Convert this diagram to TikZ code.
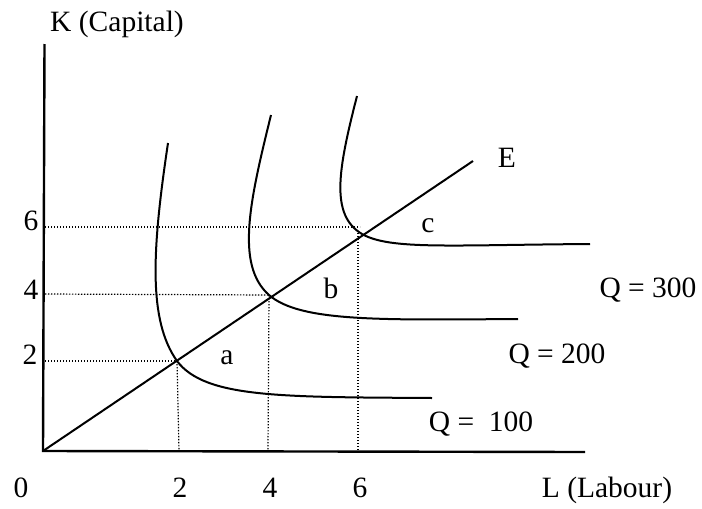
\documentclass[tikz,border=0pt]{standalone}
\usepackage{fontspec}
\setmainfont{Liberation Serif}
\begin{document}
\begin{tikzpicture}[x=1pt,y=-1pt,
  lbl/.style={inner sep=0pt,anchor=base,font=\fontsize{29.5}{35}\selectfont},
  axis/.style={line width=2.4pt},
  curve/.style={line width=2pt},
  guide/.style={line width=1.2pt,dash pattern=on 1.3pt off 1.7pt}]
\useasboundingbox (0,0) rectangle (702,509);
% axes
\coordinate (O) at (43,451);
\coordinate (Ytop) at (44.5,44);
\coordinate (Xend) at (585,452);
\draw[axis] (Ytop) -- (O) -- (Xend);
% expansion path
\coordinate (a) at (177,361);
\coordinate (b) at (269,295);
\coordinate (c) at (362,234);
\coordinate (Eend) at (473,161);
\draw[curve] (O) -- (Eend);
% guide lines
\coordinate (y2) at (45,361);
\coordinate (y4) at (45,294);
\coordinate (y6) at (45,227);
\coordinate (c6) at (360,227);
\coordinate (c6b) at (358,233);
\coordinate (x2) at (179,451);
\coordinate (x4) at (268,451);
\coordinate (x6) at (358,451);
\draw[guide] (y2) -- (a);
\draw[guide] (y4) -- (b);
\draw[guide] (y6) -- (c6);
\draw[guide] (a) -- (x2);
\draw[guide] (b) -- (x4);
\draw[guide] (c6b) -- (x6);
% isoquants
\draw[curve] (168,143) .. controls (152,250) and (148,320) .. (a)
  .. controls (205,398) and (280,397) .. (432,398);
\draw[curve] (271,115) .. controls (250,200) and (235,265) .. (b)
  .. controls (300,322) and (380,320) .. (518,319);
\draw[curve] (357,96) .. controls (338,170) and (330,215) .. (c)
  .. controls (390,250) and (450,245) .. (590,244);
% labels
\node[lbl] (Klbl) at (117,31) {K (Capital)};
\node[lbl] (Llbl) at (607,497) {L (Labour)};
\node[lbl] (x0) at (21,497.5) {0};
\node[lbl] (x2l) at (180,497.5) {2};
\node[lbl] (x4l) at (270,497.5) {4};
\node[lbl] (x6l) at (360,497.5) {6};
\node[lbl] (y2l) at (30,364.5) {2};
\node[lbl] (y4l) at (31,299.5) {4};
\node[lbl] (y6l) at (31,230.5) {6};
\node[lbl] (El) at (507,167) {E};
\node[lbl] (al) at (227,364) {a};
\node[lbl] (bl) at (331,298) {b};
\node[lbl] (cl) at (428,232) {c};
\node[lbl] (q300) at (648,297.5) {Q = 300};
\node[lbl] (q200) at (557,363) {Q = 200};
\node[lbl] (q100) at (481,431) {Q =\ \ 100};
\end{tikzpicture}
\end{document}
